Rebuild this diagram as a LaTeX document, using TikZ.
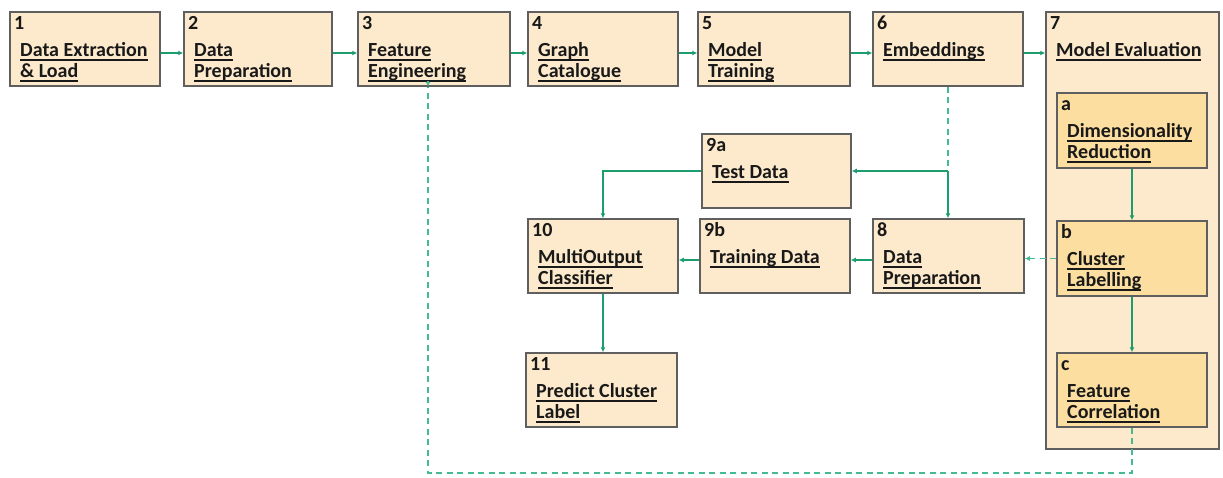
\documentclass[tikz,border=0pt]{standalone}
\usepackage{fontspec}
\setmainfont{Carlito}
\usetikzlibrary{fit,arrows.meta,calc}

\definecolor{boxfill}{RGB}{253,234,204}
\definecolor{subfill}{RGB}{252,222,160}
\definecolor{boxline}{RGB}{95,95,95}
\definecolor{flow}{RGB}{28,158,108}
\definecolor{flowdash}{RGB}{70,185,150}
\definecolor{ink}{RGB}{25,25,25}

% bold word with a thick rule under it at a fixed depth
\newcommand\ulword[1]{\setbox0=\hbox{#1}\rlap{\rule[-4.5pt]{\wd0}{2pt}}\box0}

% \blk{name}{x1}{y1}{x2}{y2}{style}{number}{line 1}{line 2}
\newcommand\blk[9]{%
  \coordinate (#1-nw) at (#2,#3);
  \coordinate (#1-se) at (#4,#5);
  \node[#6, fit=(#1-nw)(#1-se)] (#1) {};
  \node[lbl] (#1-num) at ([shift={(4,17)}]#1-nw) {#7};
  \node[lbl] (#1-l1) at ([shift={(10,44)}]#1-nw) {\ulword{#8}};
  \if\relax\detokenize{#9}\relax\else
    \node[lbl] (#1-l2) at ([shift={(10,65)}]#1-nw) {\ulword{#9}};
  \fi
}

\tikzset{
  stage/.style={draw=boxline, line width=1.5pt, fill=boxfill, inner sep=0pt},
  substage/.style={draw=boxline, line width=1.5pt, fill=subfill, inner sep=0pt},
  lbl/.style={anchor=base west, inner sep=0pt, text=ink,
              font=\fontsize{20}{22}\selectfont\bfseries},
  link/.style={draw=flow, line width=1.6pt, -{Latex[length=5pt,width=5pt]}},
  dlink/.style={draw=flowdash, line width=1.6pt, dash pattern=on 6pt off 4.5pt},
  dtip/.style={draw=flowdash, line width=1.6pt, -{Latex[length=5pt,width=5pt]}},
}

\begin{document}
\begin{tikzpicture}[x=1pt, y=-1pt]
  \useasboundingbox[fill=white] (0,0) rectangle (1223,477);

  % top row
  \blk{s1}{10}{12}{160}{86}{stage}{1}{Data Extraction}{\& Load}
  \blk{s2}{184}{12}{332}{86}{stage}{2}{Data}{Preparation}
  \blk{s3}{358}{12}{510}{86}{stage}{3}{Feature}{Engineering}
  \blk{s4}{528}{12}{678}{86}{stage}{4}{Graph}{Catalogue}
  \blk{s5}{698}{12}{850}{86}{stage}{5}{Model}{Training}
  \blk{s6}{873}{12}{1023}{86}{stage}{6}{Embeddings}{}

  % evaluation group with its three sub-steps
  \blk{s7}{1046}{12}{1219}{449}{stage}{7}{Model Evaluation}{}
  \blk{sa}{1057}{93}{1207}{168}{substage}{a}{Dimensionality}{Reduction}
  \blk{sb}{1057}{221}{1207}{296}{substage}{b}{Cluster}{Labelling}
  \blk{sc}{1057}{353}{1207}{427}{substage}{c}{Feature}{Correlation}

  % classification branch
  \blk{s9a}{702}{134}{851}{208}{stage}{9a}{Test Data}{}
  \blk{s10}{528}{219}{678}{293}{stage}{10}{MultiOutput}{Classifier}
  \blk{s9b}{700}{219}{850}{293}{stage}{9b}{Training Data}{}
  \blk{s8}{873}{219}{1024}{293}{stage}{8}{Data}{Preparation}
  \blk{s11}{526}{353}{677}{427}{stage}{11}{Predict Cluster}{Label}

  % pipeline along the top
  \draw[link] ([yshift=-4pt]s1.east) -- ([yshift=-4pt]s2.west);
  \draw[link] ([yshift=-4pt]s2.east) -- ([yshift=-4pt]s3.west);
  \draw[link] ([yshift=-4pt]s3.east) -- ([yshift=-4pt]s4.west);
  \draw[link] ([yshift=-4pt]s4.east) -- ([yshift=-4pt]s5.west);
  \draw[link] ([yshift=-4pt]s5.east) -- ([yshift=-4pt]s6.west);
  \draw[link] ([yshift=-4pt]s6.east) -- ([yshift=-4pt]s6.east -| s7.west);

  % evaluation sub-steps
  \draw[link] (sa.south) -- (sa.south |- sb.north);
  \draw[link] (sb.south) -- (sb.south |- sc.north);

  % embeddings feed the data split
  \coordinate (split) at (s6.south |- s9a.east);
  \draw[dlink] (s6.south) -- (split);
  \draw[link] (split) -- (split |- s8.north);
  \draw[link] (split) -- (s9a.east);

  % cluster labels go back to the data preparation
  \draw[dlink] (sb.west) -- (sb.west -| s8.east);
  \draw[dtip] ([xshift=6pt]sb.west -| s8.east) -- (sb.west -| s8.east);

  \draw[link] ([yshift=-4pt]s8.west) -- ([yshift=-4pt]s9b.east);
  \draw[link] ([yshift=-4pt]s9b.west) -- ([yshift=-4pt]s10.east);
  \draw[link] (s9a.west) -| (s10.north);
  \draw[link] (s10.south) -- (s10.south |- s11.north);

  % feedback from feature correlation to feature engineering
  \coordinate (fbr) at (sc.south |- 0,473);
  \coordinate (fbl) at (428,473);
  \draw[dlink] (sc.south) -- (fbr) -- (fbl) -- (fbl |- s3.south);
  \draw[dtip] ([yshift=6pt]fbl |- s3.south) -- (fbl |- s3.south);
\end{tikzpicture}
\end{document}
